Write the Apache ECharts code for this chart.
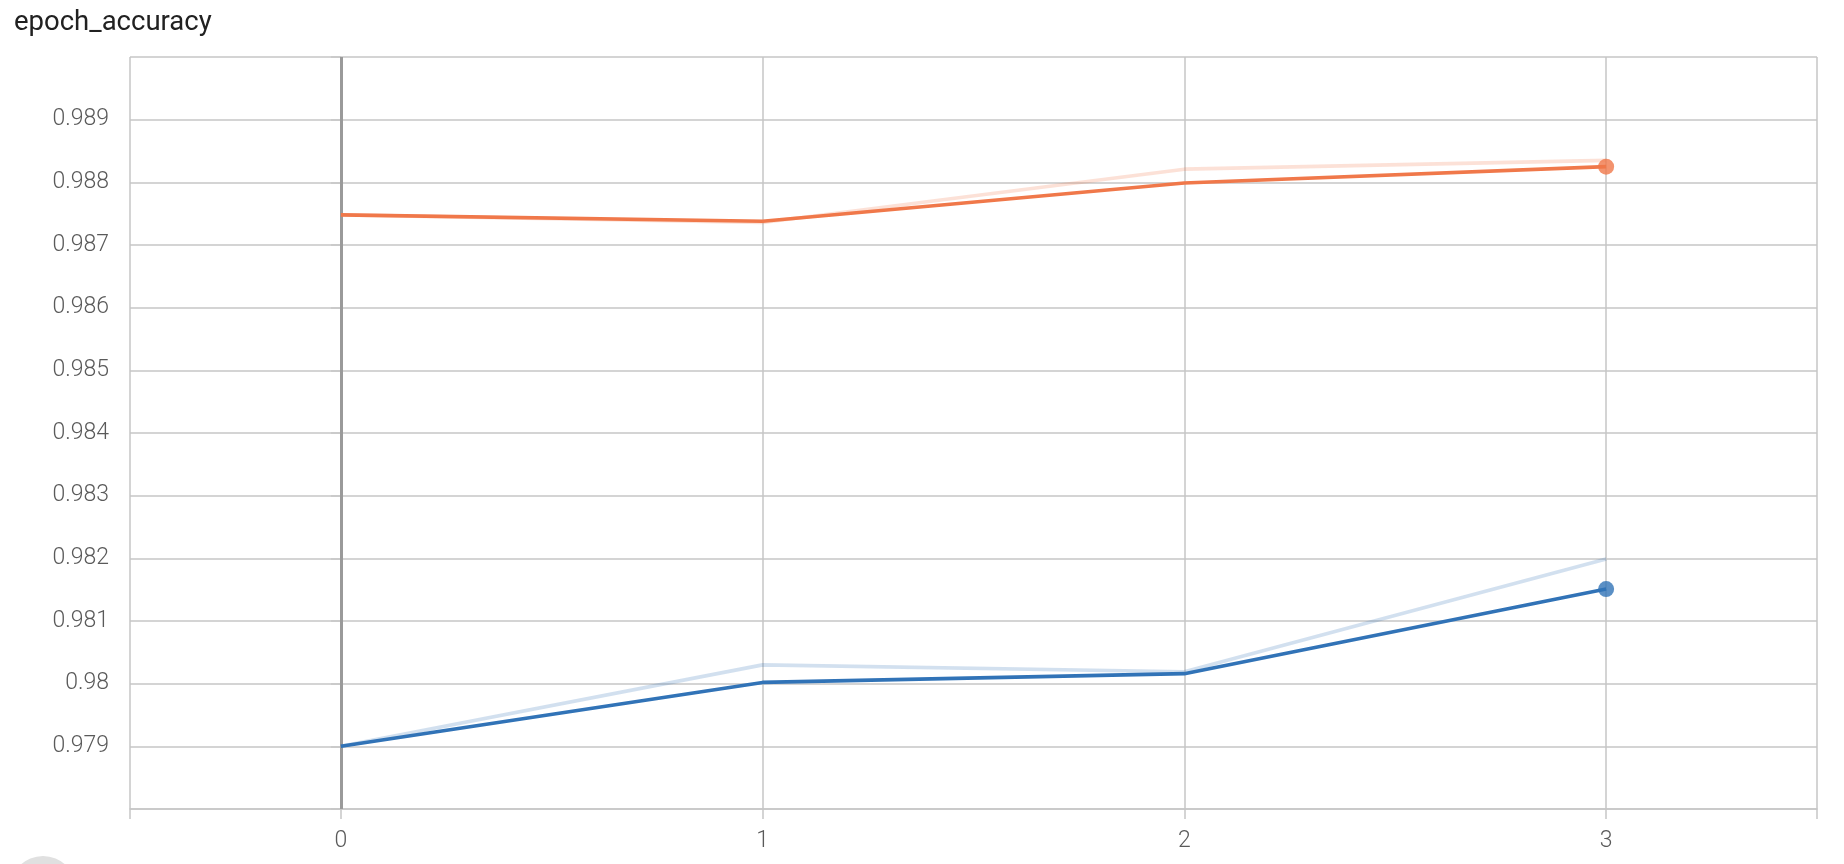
<!DOCTYPE html>
<html>
<head>
<meta charset="utf-8">
<script src="https://cdn.jsdelivr.net/npm/echarts@6/dist/echarts.min.js"></script>
<style>
html,body{margin:0;padding:0;background:#fff;}
#chart{width:1844px;height:864px;}
</style>
</head>
<body>
<div id="chart"></div>
<script>
const titleText = 'epoch_accuracy';
const epochs = [0, 1, 2, 3];
const xTickValues = [-0.5, 0, 1, 2, 3, 3.5];
const xLabelValues = [0, 1, 2, 3];
const orangeRaw = [0.98748, 0.98736, 0.98821, 0.98835];
const orangeSmoothed = [0.98748, 0.98738, 0.98799, 0.98825];
const blueRaw = [0.97900, 0.98030, 0.98019, 0.98199];
const blueSmoothed = [0.97900, 0.98002, 0.98016, 0.98151];
const yMin = 0.978, yMax = 0.990, yStep = 0.001;

const ORANGE = '#f0784a';
const BLUE = '#3173b7';
const GRID = '#c6c6c6';
const FONT = 'Roboto';

function pairs(vals) { return epochs.map((e, i) => [e, vals[i]]); }
function last(vals) { const i = epochs.length - 1; return [[epochs[i], vals[i]]]; }

function lineSeries(name, vals, color, opacity, z) {
  return {
    name: name, type: 'line', data: pairs(vals), showSymbol: false, symbol: 'none',
    lineStyle: { color: color, width: 3.6, opacity: opacity }, itemStyle: { color: color },
    z: z, silent: true, animation: false
  };
}

const chart = echarts.init(document.getElementById('chart'));
chart.setOption({
  animation: false,
  backgroundColor: '#ffffff',
  title: {
    text: titleText, left: 9, top: 4,
    textStyle: { fontFamily: FONT, fontSize: 27.5, fontWeight: 'normal', color: '#212121' }
  },
  grid: { left: 130, right: 27, top: 57, bottom: 55, containLabel: false },
  xAxis: {
    type: 'value', min: -0.5, max: 3.5,
    axisLine: { show: true, lineStyle: { color: GRID, width: 1.5 } },
    axisTick: { show: true, length: 10, customValues: xTickValues, lineStyle: { color: GRID, width: 1.5 } },
    axisLabel: {
      show: true, customValues: xLabelValues, margin: 21,
      fontFamily: FONT, fontSize: 23, fontWeight: 300, color: '#5a5a5a',
      formatter: v => String(v)
    },
    splitLine: { show: true, lineStyle: { color: GRID, width: 1.5 } }
  },
  yAxis: {
    type: 'value', min: yMin, max: yMax, interval: yStep,
    axisLine: { show: false },
    axisTick: { show: true, length: 10, lineStyle: { color: GRID, width: 1.5 } },
    axisLabel: {
      margin: 21, fontFamily: FONT, fontSize: 23, fontWeight: 300, color: '#5a5a5a',
      formatter: function (v) {
        if (Math.abs(v - yMin) < 1e-9 || Math.abs(v - yMax) < 1e-9) return '';
        return String(parseFloat(v.toFixed(3)));
      }
    },
    splitLine: { show: true, lineStyle: { color: GRID, width: 1.5 } }
  },
  graphic: [{
    type: 'circle', left: 10, top: 856, silent: true,
    shape: { r: 33 }, style: { fill: '#e0e0e0' }
  }],
  series: [
    Object.assign(lineSeries('orange_raw', orangeRaw, ORANGE, 0.22, 2), {
      markLine: {
        silent: true, symbol: 'none', label: { show: false },
        lineStyle: { color: '#9a9a9a', width: 3, type: 'solid' },
        data: [{ xAxis: 0 }], z: 1
      }
    }),
    lineSeries('blue_raw', blueRaw, BLUE, 0.22, 2),
    lineSeries('orange', orangeSmoothed, ORANGE, 1, 3),
    lineSeries('blue', blueSmoothed, BLUE, 1, 3),
    { type: 'scatter', data: last(orangeSmoothed), symbolSize: 16, itemStyle: { color: ORANGE }, z: 4, silent: true },
    { type: 'scatter', data: last(blueSmoothed), symbolSize: 16, itemStyle: { color: BLUE }, z: 4, silent: true }
  ]
});
</script>
</body>
</html>
